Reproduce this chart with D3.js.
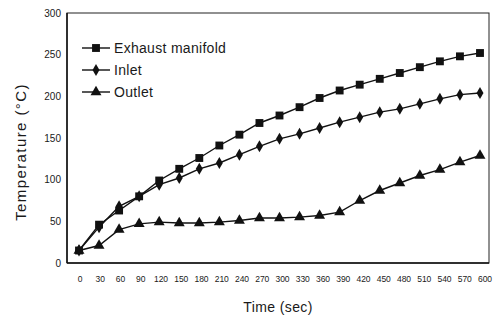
<!DOCTYPE html>
<html>
<head>
<meta charset="utf-8">
<script src="https://cdn.jsdelivr.net/npm/d3@7"></script>
<style>
  body { margin: 0; background: #fff; }
  text { font-family: Arial, "Liberation Sans", sans-serif; fill: #1a1a1a; }
</style>
</head>
<body>
<div id="chart"></div>
<script>
// data
var times = [0, 30, 60, 90, 120, 150, 180, 210, 240, 270, 300, 330, 360, 390, 420, 450, 480, 510, 540, 570, 600];
var exhaust = [15, 46, 63, 80, 99, 113, 126, 141, 154, 168, 177, 187, 198, 207, 214, 221, 228, 235, 242, 248, 252];
var inlet = [15, 43, 68, 80, 94, 102, 113, 120, 130, 140, 149, 155, 162, 169, 175, 181, 185, 191, 197, 202, 204];
var outlet = [15, 21, 40, 47, 49, 48, 48, 49, 51, 54, 54, 55, 57, 61, 75, 87, 96, 105, 112, 121, 129];
var yTicks = [0, 50, 100, 150, 200, 250, 300];
var seriesNames = ["Exhaust manifold", "Inlet", "Outlet"];

var width = 494, height = 320;
var svg = d3.select("#chart").append("svg")
    .attr("width", width)
    .attr("height", height);

// scales
var x = d3.scaleLinear().domain([0, 600]).range([79, 480]);
var y = d3.scaleLinear().domain([0, 300]).range([263, 13]);

// frame
svg.append("rect")
    .attr("x", 67).attr("y", 13)
    .attr("width", 422).attr("height", 250)
    .attr("fill", "none")
    .attr("stroke", "#222")
    .attr("stroke-width", 1);
svg.append("line")
    .attr("x1", 67).attr("x2", 67).attr("y1", 13).attr("y2", 263)
    .attr("stroke", "#111").attr("stroke-width", 1.5);
svg.append("line")
    .attr("x1", 67).attr("x2", 489).attr("y1", 263).attr("y2", 263)
    .attr("stroke", "#111").attr("stroke-width", 1.5);

// y tick labels
svg.append("g").selectAll("text")
    .data(yTicks)
  .enter().append("text")
    .attr("x", 61)
    .attr("y", function(d) { return y(d); })
    .attr("dy", "0.35em")
    .attr("text-anchor", "end")
    .style("font-size", "10px")
    .text(function(d) { return d; });

// x tick labels
svg.append("g").selectAll("text")
    .data(times)
  .enter().append("text")
    .attr("x", function(d) { return x(d) + 1 + d / 600 * 4; })
    .attr("y", 279)
    .attr("dy", "0.35em")
    .attr("text-anchor", "middle")
    .style("font-size", "8.5px")
    .text(function(d) { return d; });

// axis titles
svg.append("text")
    .attr("x", 278).attr("y", 312)
    .attr("text-anchor", "middle")
    .style("font-size", "14px")
    .style("letter-spacing", "0.4px")
    .text("Time (sec)");
svg.append("text")
    .attr("transform", "translate(26,152) rotate(-90)")
    .attr("text-anchor", "middle")
    .style("font-size", "15px")
    .style("letter-spacing", "1.4px")
    .text("Temperature (\u00B0C)");

// markers
var symbols = [d3.symbolSquare, d3.symbolDiamond, d3.symbolTriangle];
var symSize = [62, 42, 52];
var series = [exhaust, inlet, outlet];

var line = d3.line()
    .x(function(d, i) { return x(times[i]); })
    .y(function(d) { return y(d); });

series.forEach(function(vals, k) {
  svg.append("path")
    .attr("d", line(vals))
    .attr("fill", "none")
    .attr("stroke", "#111")
    .attr("stroke-width", 1.4);
  svg.append("g").selectAll("path")
      .data(vals)
    .enter().append("path")
      .attr("transform", function(d, i) { return "translate(" + x(times[i]) + "," + y(d) + ")"; })
      .attr("d", d3.symbol().type(symbols[k]).size(symSize[k]))
      .attr("fill", "#111");
});

// legend
var legend = svg.append("g").selectAll("g")
    .data(seriesNames)
  .enter().append("g")
    .attr("transform", function(d, i) { return "translate(82," + (48 + i * 22) + ")"; });
legend.append("line")
    .attr("x1", 0).attr("x2", 28)
    .attr("stroke", "#111").attr("stroke-width", 1.4);
legend.append("path")
    .attr("transform", "translate(14,0)")
    .attr("d", function(d, i) { return d3.symbol().type(symbols[i]).size(symSize[i])(); })
    .attr("fill", "#111");
legend.append("text")
    .attr("x", 32)
    .attr("dy", "0.35em")
    .style("font-size", "14px")
    .style("letter-spacing", "0.3px")
    .text(function(d) { return d; });
</script>
</body>
</html>
